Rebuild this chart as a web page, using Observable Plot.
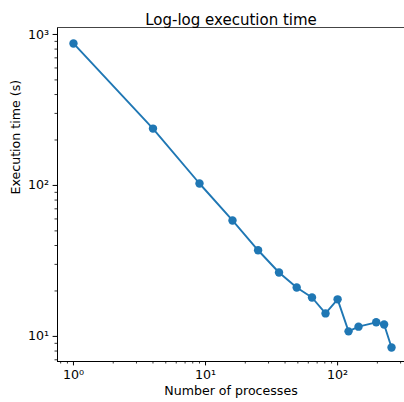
<!DOCTYPE html>
<html>
<head>
<meta charset="utf-8">
<script src="https://cdn.jsdelivr.net/npm/d3@7"></script>
<script src="https://cdn.jsdelivr.net/npm/@observablehq/plot@0.6"></script>
<style>
  html, body { margin: 0; padding: 0; background: #fff; }
  svg { display: block; }
</style>
</head>
<body>
<div id="chart"></div>
<script>
const processes = [1, 4, 9, 16, 25, 36, 49, 64, 81, 100, 121, 144, 196, 225, 256];
const times = [872, 238, 103, 58.6, 37.2, 26.5, 21.1, 18.1, 14.2, 17.6, 10.8, 11.6, 12.4, 12.0, 8.45];
const xMajorTicks = [1, 10, 100];
const yMajorTicks = [10, 100, 1000];
const title = "Log-log execution time";
const xLabel = "Number of processes";
const yLabel = "Execution time (s)";

const xDomain = [0.757, 321];
const yDomain = [6.82, 1112];

const sup = {"0": "\u2070", "1": "\u00b9", "2": "\u00b2", "3": "\u00b3"};
const fmt = d => "10" + sup[String(Math.round(Math.log10(d)))];

function minorTicks(domain) {
  const out = [];
  for (let e = -2; e <= 4; e++) {
    for (let m = 2; m <= 9; m++) {
      const v = m * Math.pow(10, e);
      if (v >= domain[0] && v <= domain[1]) out.push(v);
    }
  }
  return out;
}

const data = processes.map((p, i) => ({p, t: times[i]}));
const blue = "#1f77b4";
const font = "DejaVu Sans, sans-serif";

const chart = Plot.plot({
  width: 404,
  height: 402,
  marginTop: 27,
  marginBottom: 41,
  marginLeft: 57,
  marginRight: 0,
  style: {fontFamily: font, background: "#fff", color: "#000"},
  x: {type: "log", domain: xDomain, axis: null},
  y: {type: "log", domain: yDomain, axis: null},
  marks: [
    Plot.axisX(xMajorTicks, {anchor: "bottom", tickSize: 4.4, tickPadding: 4, tickFormat: fmt, fontSize: 12.6, label: null, strokeWidth: 1}),
    Plot.axisX(minorTicks(xDomain), {anchor: "bottom", tickSize: 2.5, tickFormat: () => "", label: null, strokeWidth: 0.8}),
    Plot.axisY(yMajorTicks, {anchor: "left", tickSize: 4.4, tickPadding: 4, tickFormat: fmt, fontSize: 12.6, label: null, strokeWidth: 1}),
    Plot.axisY(minorTicks(yDomain), {anchor: "left", tickSize: 2.5, tickFormat: () => "", label: null, strokeWidth: 0.8}),
    Plot.ruleX([xDomain[0]], {stroke: "#000", strokeWidth: 1}),
    Plot.ruleY([yDomain[0]], {stroke: "#000", strokeWidth: 1}),
    Plot.ruleY([yDomain[1]], {stroke: "#444", strokeWidth: 1}),
    Plot.line(data, {x: "p", y: "t", stroke: blue, strokeWidth: 1.9}),
    Plot.dot(data, {x: "p", y: "t", fill: blue, r: 4.2, stroke: "none"}),
    Plot.text([title], {frameAnchor: "top", dy: -13, fontSize: 15, fill: "#000"}),
    Plot.text([xLabel], {frameAnchor: "bottom", dy: 33, fontSize: 12.6, fill: "#000"}),
    Plot.text([yLabel], {frameAnchor: "left", dx: -42, rotate: -90, fontSize: 12.6, fill: "#000"})
  ]
});
document.getElementById("chart").appendChild(chart);
</script>
</body>
</html>
